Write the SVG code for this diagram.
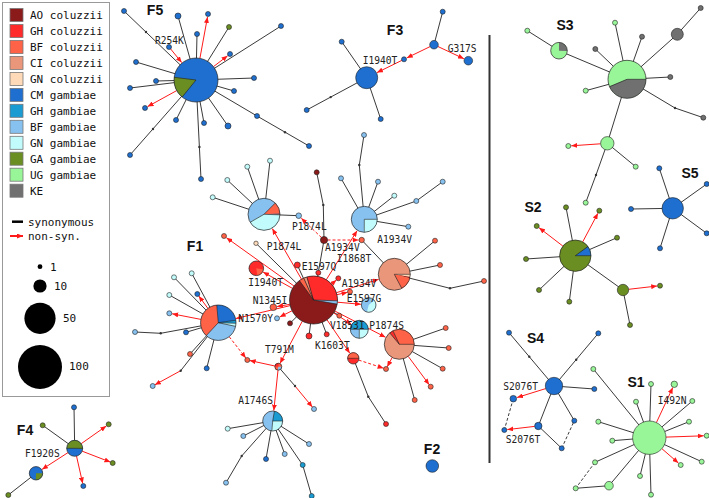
<svg xmlns="http://www.w3.org/2000/svg" width="709" height="498" viewBox="0 0 709 498">
<defs>
<style>
.e{stroke:#3a3a3a;stroke-width:1;fill:none}
.a{stroke:#ff1a1a;stroke-width:1;fill:none;marker-end:url(#ar)}
.ad{stroke:#ff1a1a;stroke-width:1;fill:none;stroke-dasharray:3 2;marker-end:url(#ar)}
.k{stroke:#3a3a3a;stroke-width:1;fill:none;stroke-dasharray:3 2}
.n{stroke:#222;stroke-width:.6}
.o{fill:none;stroke:#222;stroke-width:.7}
.sb{stroke:#222;stroke-width:.6}
.m{fill:#333}
.sw{stroke:#777;stroke-width:.8}
.AO{fill:#8b1a1a}.GHc{fill:#ff2a2a}.BFc{fill:#ff6347}.CI{fill:#e9967a}.GNc{fill:#ffdab9}
.CM{fill:#1e6fcf}.GHg{fill:#1a9cd3}.BFg{fill:#87c1ef}.GNg{fill:#c2fbfb}.GA{fill:#6b8e23}.UG{fill:#98f598}.KE{fill:#707070}
.sAO{stroke:#8b1a1a;fill:none}.sGHc{stroke:#ff2a2a;fill:none}.sBFc{stroke:#ff6347;fill:none}.sCI{stroke:#e9967a;fill:none}.sGNc{stroke:#ffdab9;fill:none}
.sCM{stroke:#1e6fcf;fill:none}.sGHg{stroke:#1a9cd3;fill:none}.sBFg{stroke:#87c1ef;fill:none}.sGNg{stroke:#c2fbfb;fill:none}.sGA{stroke:#6b8e23;fill:none}.sUG{stroke:#98f598;fill:none}.sKE{stroke:#707070;fill:none}
.t{font-family:"DejaVu Sans Mono","Liberation Mono",monospace;font-size:9.6px;fill:#222}
.lg{font-family:"DejaVu Sans Mono","Liberation Mono",monospace;font-size:11px;fill:#111}
.cl{font-family:"Liberation Sans",Arial,sans-serif;font-weight:bold;font-size:14px;fill:#111;text-anchor:middle}
</style>
<marker id="ar" viewBox="0 0 6 5" refX="6" refY="2.5" markerWidth="6" markerHeight="5" markerUnits="userSpaceOnUse" orient="auto"><path d="M0,0L6,2.5L0,5z" fill="#ff1a1a"/></marker>
</defs>
<rect width="709" height="498" fill="#fff"/>

<g id="legend">
<rect x="2.5" y="2.5" width="107" height="394" fill="#fff" stroke="#999"/>
<rect x="10" y="8.5" width="13" height="13" class="sw AO"/><text x="30" y="19" class="lg">AO coluzzii</text>
<rect x="10" y="24.5" width="13" height="13" class="sw GHc"/><text x="30" y="35" class="lg">GH coluzzii</text>
<rect x="10" y="40.5" width="13" height="13" class="sw BFc"/><text x="30" y="51" class="lg">BF coluzzii</text>
<rect x="10" y="56.4" width="13" height="13" class="sw CI"/><text x="30" y="66.9" class="lg">CI coluzzii</text>
<rect x="10" y="72.4" width="13" height="13" class="sw GNc"/><text x="30" y="82.9" class="lg">GN coluzzii</text>
<rect x="10" y="88.4" width="13" height="13" class="sw CM"/><text x="30" y="98.9" class="lg">CM gambiae</text>
<rect x="10" y="104.3" width="13" height="13" class="sw GHg"/><text x="30" y="114.8" class="lg">GH gambiae</text>
<rect x="10" y="120.3" width="13" height="13" class="sw BFg"/><text x="30" y="130.8" class="lg">BF gambiae</text>
<rect x="10" y="136.3" width="13" height="13" class="sw GNg"/><text x="30" y="146.8" class="lg">GN gambiae</text>
<rect x="10" y="152.2" width="13" height="13" class="sw GA"/><text x="30" y="162.7" class="lg">GA gambiae</text>
<rect x="10" y="168.2" width="13" height="13" class="sw UG"/><text x="30" y="178.7" class="lg">UG gambiae</text>
<rect x="10" y="184.2" width="13" height="13" class="sw KE"/><text x="30" y="194.7" class="lg">KE</text>
<line x1="12" y1="221.7" x2="23" y2="221.7" stroke="#000" stroke-width="2.5"/><text x="28" y="225.5" class="lg">synonymous</text>
<line x1="10" y1="236" x2="23" y2="236" stroke="#ff1a1a" stroke-width="2" marker-end="url(#ar)"/><text x="28" y="240" class="lg">non-syn.</text>
<circle cx="40" cy="266.7" r="2.4" fill="#000"/><text x="50" y="271" class="lg">1</text>
<circle cx="40" cy="286" r="6.6" fill="#000"/><text x="54" y="290" class="lg">10</text>
<circle cx="40" cy="318.3" r="15.6" fill="#000"/><text x="63" y="322" class="lg">50</text>
<circle cx="40" cy="367" r="22" fill="#000"/><text x="69" y="369.5" class="lg">100</text>
</g>

<line id="separator" x1="489.5" y1="35" x2="489.5" y2="463" stroke="#333" stroke-width="2"/>

<g id="connectors">
<path class="e" d="M196,80L124,11M196,80L178,16M196,80L229,27M196,80L281,26M196,80L197,34M196,80L136,62M196,80L156,81M196,80L130,88M196,80L254,78M196,80L234,91M196,80L176,120M196,80L204,123M196,80L228,126M196,80L130,155M196,80L201,179M196,80L257,116L309,146"/>
<line class="a" x1="199.9" y1="58.4" x2="207.5" y2="17"/>
<line class="a" x1="213.5" y1="66.6" x2="227.6" y2="55.8"/>
<line class="a" x1="170.6" y1="48.9" x2="181.7" y2="62.6"/>
<line class="a" x1="176.7" y1="90.6" x2="147.6" y2="106.6"/>

<path class="e" d="M366.7,77.7L341.7,41.7M366.7,77.7L306.7,110M366.7,77.7L380.7,119M434,44.7L442.7,11.7"/>
<line class="a" x1="430.1" y1="46.6" x2="406.8" y2="57.9"/>
<line class="a" x1="401.8" y1="60.4" x2="377" y2="72.6"/>
<line class="a" x1="437.9" y1="46.5" x2="463.9" y2="58.7"/>

<path class="e" d="M627,79.3L559,50.7L527.3,30.7M627,79.3L615,22.7M627,79.3L642,36.7M627,79.3L595.3,49M627,79.3L670.3,77M627,79.3L585.7,90.7M627,79.3L675,108L703.3,117.7M627,79.3L677.3,34.3L700.7,8M627,79.3L607.3,143.3L596,175L585.7,202.7M607.3,143.3L635.7,166.7"/>
<line class="a" x1="600.6" y1="143.8" x2="571.3" y2="145.8"/>

<path class="e" d="M672.7,208.3L659.3,168.3M672.7,208.3L706.7,184M672.7,208.3L631,209M672.7,208.3L706.7,233.3M672.7,208.3L660,248.3"/>

<path class="e" d="M575.3,255.7L566,207.3M575.3,255.7L617,237.7M575.3,255.7L526,259M575.3,255.7L539,290M575.3,255.7L569.3,301.7M575.3,255.7L623,290L630,325"/>
<line class="a" x1="562.9" y1="246.1" x2="539.1" y2="227.8"/>
<line class="a" x1="582.7" y1="241.9" x2="597.9" y2="213.3"/>
<line class="a" x1="628.7" y1="289.3" x2="657.2" y2="286"/>

<path class="e" d="M554,386L509,332.7M554,386L598.3,333.3M554,386L594.3,389M554,386L538.3,426L561.7,448.3M554,386L574.3,420.7"/>
<path class="k" d="M513.3,398.7L504.3,430M561.7,448.3L574.3,420.7"/>
<line class="a" x1="545.7" y1="388.6" x2="517.1" y2="397.5"/>
<line class="a" x1="534.6" y1="426.4" x2="507.3" y2="429.6"/>

<path class="e" d="M649.3,437.7L593.3,369M649.3,437.7L651,384M649.3,437.7L692.3,401M649.3,437.7L636,401.7M649.3,437.7L689,421.7M649.3,437.7L598.3,421.7M649.3,437.7L612.3,440.7M649.3,437.7L701.7,461.7M649.3,437.7L595,462.3M649.3,437.7L640,476M649.3,437.7L609,485.7L575.7,488.3M649.3,437.7L651,494.7"/>
<path class="k" d="M595,462.3L575.7,488.3"/>
<line class="a" x1="656.4" y1="422.6" x2="672.8" y2="387.5"/>
<line class="a" x1="666" y1="437.1" x2="703.7" y2="435.8"/>
<line class="a" x1="661.9" y1="448.7" x2="678.4" y2="463"/>

<path class="e" d="M74.7,448.3L74,407.3M74.7,448.3L42.7,425.3M36,473.3L8.3,495"/>
<line class="a" x1="81.2" y1="443.7" x2="106.3" y2="426"/>
<line class="a" x1="82.2" y1="451.2" x2="110.4" y2="462.1"/>
<line class="a" x1="76.5" y1="456.1" x2="82.7" y2="483.4"/>
<line class="a" x1="68" y1="452.6" x2="42" y2="469.4"/>

<path class="e" d="M313.5,300L256,243.3M313.5,300L297.3,265M313.5,300L290,323.3M313.5,300L324,240L323.3,205L316.7,172.3M313.5,300L309,336M313.5,300L326.7,334.3M313.5,300L339.3,315.7M361.7,240L394.3,274.3M394.3,274.3L435,240.7M394.3,274.3L440,265M394.3,274.3L450,288.3L484,281M264,214.3L247.3,166.7M264,214.3L270,160.7M264,214.3L227.3,180M264,214.3L212.7,197.3M264,214.3L298.7,215.7M364.3,219.3L341,178.3M364.3,219.3L378,181.7M364.3,219.3L394.3,195.7M364.3,219.3L416.3,201L442.7,181.7M364.3,219.3L408.3,226.7M364.3,219.3L359.3,165L364,135M218.3,322.7L174,277.3M218.3,322.7L191.7,273.3M218.3,322.7L169.3,295M218.3,322.7L186,332.3M218.3,322.7L160.7,333.3L135,332M218.3,322.7L190,354M218.3,322.7L206.7,368.3M218.3,322.7L180.7,370.7M278.3,366.7L295,386M272.7,421L227.7,428.7M272.7,421L243.3,436M272.7,421L266,459M272.7,421L284.7,454M272.7,421L309,444M272.7,421L302.7,465L311.7,496M272.7,421L241.7,456L226,482.7M399.3,344.3L445.7,328M399.3,344.3L448.7,348M399.3,344.3L442.7,368.7M399.3,344.3L414.7,400M353.3,358.3L368.3,396.7L386,424"/>
<line class="a" x1="294" y1="286" x2="226.4" y2="237.7"/>
<line class="a" x1="292.5" y1="288.4" x2="263.1" y2="272.1"/>
<line class="a" x1="301.5" y1="279.2" x2="272.3" y2="228.6"/>
<line class="a" x1="289.9" y1="304.3" x2="277.1" y2="306.6"/>
<line class="a" x1="292" y1="310.8" x2="279.7" y2="317"/>
<line class="a" x1="290.2" y1="305.6" x2="236" y2="318.5"/>
<line class="a" x1="207.9" y1="308.4" x2="198.8" y2="296"/>
<line class="a" x1="200.9" y1="319.4" x2="172.2" y2="313.8"/>
<line class="a" x1="180.7" y1="370.7" x2="154.9" y2="384.8"/>
<line class="a" x1="302.3" y1="321.2" x2="280" y2="363.4"/>
<line class="a" x1="274.9" y1="366" x2="249.7" y2="360.5"/>
<line class="a" x1="295" y1="386" x2="312.4" y2="407.1"/>
<line class="a" x1="278" y1="370.2" x2="273.8" y2="410.6"/>
<line class="a" x1="326.3" y1="279.7" x2="357.1" y2="230.7"/>
<line class="a" x1="336.4" y1="292.7" x2="378.6" y2="279.3"/>
<line class="a" x1="331.5" y1="284.2" x2="336.4" y2="280"/>
<line class="a" x1="336.9" y1="294.7" x2="347.6" y2="292.2"/>
<line class="a" x1="337.4" y1="302.2" x2="360.9" y2="304.3"/>
<line class="a" x1="333.7" y1="312.9" x2="351.3" y2="324.2"/>
<line class="a" x1="334.8" y1="311" x2="385.5" y2="337.2"/>
<line class="a" x1="408.2" y1="356.3" x2="429.2" y2="384.7"/>
<line class="a" x1="392.2" y1="357.5" x2="387.2" y2="366.8"/>
<line class="a" x1="327" y1="319.8" x2="349.8" y2="353.2"/>
<line class="ad" x1="229.2" y1="336.7" x2="245.8" y2="358"/>
<line class="ad" x1="321.5" y1="237.6" x2="301.3" y2="218.2"/>
<line class="ad" x1="327.5" y1="240" x2="358.5" y2="240"/>
<line class="ad" x1="358.7" y1="360.1" x2="383.6" y2="368.2"/>
<g class="m">
<circle cx="146" cy="32" r="1.2"/><circle cx="153" cy="129" r="1.2"/><circle cx="199.4" cy="147" r="1.2"/><circle cx="285" cy="132.2" r="1.2"/>
<circle cx="330.7" cy="97.1" r="1.2"/><circle cx="675" cy="108" r="1.2"/><circle cx="596" cy="175" r="1.2"/>
<circle cx="529.3" cy="356.7" r="1.2"/><circle cx="576.2" cy="359.7" r="1.2"/>
<circle cx="323.3" cy="205" r="1.2"/><circle cx="359.3" cy="165" r="1.2"/><circle cx="450" cy="288.3" r="1.2"/>
<circle cx="160.7" cy="333.3" r="1.2"/><circle cx="180.7" cy="370.7" r="1.2"/><circle cx="295" cy="386" r="1.2"/>
<circle cx="241.7" cy="456" r="1.2"/><circle cx="368.3" cy="396.7" r="1.2"/>
</g>
</g>

<g id="nodes">
<g id="F5">
<g id="F5-hub">
<circle cx="196" cy="80" r="22" class="CM"/>
<circle cx="196" cy="80" r="11" class="sGA" stroke-width="22" stroke-dasharray="11.14 69.12" transform="rotate(129 196 80)"/>
<line x1="196" y1="80" x2="218" y2="80" class="sb" transform="rotate(129 196 80)"/>
<line x1="196" y1="80" x2="218" y2="80" class="sb" transform="rotate(187 196 80)"/>
<circle cx="196" cy="80" r="22" class="o"/>
</g>
<circle id="F5-n1" cx="124" cy="11" r="2.5" class="n CM"/>
<circle id="F5-n2" cx="178" cy="16" r="3" class="n CM"/>
<circle id="F5-n3" cx="208" cy="14" r="2.5" class="n CM"/>
<circle id="F5-n4" cx="229" cy="27" r="2.5" class="n GA"/>
<circle id="F5-n5" cx="281" cy="26" r="2.5" class="n CM"/>
<circle id="F5-n6" cx="230" cy="54" r="2.5" class="n CM"/>
<circle id="F5-n7" cx="197" cy="34" r="2.5" class="n CM"/>
<circle id="F5-n8" cx="169" cy="47" r="2.5" class="n CM"/>
<circle id="F5-n9" cx="136" cy="62" r="2.5" class="n CM"/>
<circle id="F5-n10" cx="156" cy="81" r="2.5" class="n CM"/>
<circle id="F5-n11" cx="130" cy="88" r="2.5" class="n CM"/>
<circle id="F5-n12" cx="254" cy="78" r="2.5" class="n CM"/>
<circle id="F5-n13" cx="234" cy="91" r="2.5" class="n CM"/>
<circle id="F5-n14" cx="145" cy="108" r="2.5" class="n CM"/>
<circle id="F5-n15" cx="176" cy="120" r="2.5" class="n CM"/>
<circle id="F5-n16" cx="204" cy="123" r="2.5" class="n CM"/>
<circle id="F5-n17" cx="228" cy="126" r="3" class="n CM"/>
<circle id="F5-n18" cx="130" cy="155" r="2.5" class="n CM"/>
<circle id="F5-n19" cx="201" cy="179" r="2.5" class="n CM"/>
<circle id="F5-n20" cx="257" cy="116" r="2.5" class="n CM"/>
<circle id="F5-n21" cx="309" cy="146" r="2.5" class="n CM"/>
</g>

<g id="F3">
<circle id="F3-hub" cx="366.7" cy="77.7" r="11" class="n CM"/>
<circle id="F3-n1" cx="341.7" cy="41.7" r="2.5" class="n CM"/>
<circle id="F3-n2" cx="306.7" cy="110" r="2.5" class="n CM"/>
<circle id="F3-n3" cx="380.7" cy="119" r="2.5" class="n CM"/>
<circle id="F3-n4" cx="404" cy="59.3" r="2.5" class="n CM"/>
<circle id="F3-n5" cx="434" cy="44.7" r="4.3" class="n CM"/>
<circle id="F3-n6" cx="442.7" cy="11.7" r="2.5" class="n CM"/>
<circle id="F3-n7" cx="468.3" cy="60.7" r="4.3" class="n CM"/>
</g>

<g id="S3">
<g id="S3-hub">
<circle cx="627" cy="79.3" r="19" class="UG"/>
<circle cx="627" cy="79.3" r="9.5" class="sKE" stroke-width="19" stroke-dasharray="26.03 59.69"/>
<line x1="627" y1="79.3" x2="646" y2="79.3" class="sb"/>
<line x1="627" y1="79.3" x2="646" y2="79.3" class="sb" transform="rotate(157 627 79.3)"/>
<circle cx="627" cy="79.3" r="19" class="o"/>
</g>
<g id="S3-n1">
<circle cx="559" cy="50.7" r="8.3" class="UG"/>
<circle cx="559" cy="50.7" r="4.15" class="sKE" stroke-width="8.3" stroke-dasharray="6.52 26.08" transform="rotate(-90 559 50.7)"/>
<circle cx="559" cy="50.7" r="8.3" class="o"/>
</g>
<circle id="S3-n2" cx="527.3" cy="30.7" r="2.5" class="n UG"/>
<circle id="S3-n3" cx="615" cy="22.7" r="2.5" class="n UG"/>
<circle id="S3-n4" cx="642" cy="36.7" r="2.5" class="n KE"/>
<circle id="S3-n5" cx="595.3" cy="49" r="2.5" class="n KE"/>
<circle id="S3-n6" cx="670.3" cy="77" r="2.5" class="n KE"/>
<circle id="S3-n7" cx="585.7" cy="90.7" r="2.5" class="n UG"/>
<circle id="S3-n8" cx="703.3" cy="117.7" r="2.5" class="n KE"/>
<circle id="S3-n9" cx="677.3" cy="34.3" r="6" class="n KE"/>
<circle id="S3-n10" cx="700.7" cy="8" r="2.5" class="n KE"/>
<circle id="S3-n11" cx="607.3" cy="143.3" r="6.7" class="n UG"/>
<circle id="S3-n12" cx="568.3" cy="146" r="2.5" class="n UG"/>
<circle id="S3-n13" cx="585.7" cy="202.7" r="2.5" class="n UG"/>
<circle id="S3-n14" cx="635.7" cy="166.7" r="2.5" class="n UG"/>
</g>

<g id="S5">
<circle id="S5-hub" cx="672.7" cy="208.3" r="10.7" class="n CM"/>
<circle id="S5-n1" cx="659.3" cy="168.3" r="2.5" class="n CM"/>
<circle id="S5-n2" cx="706.7" cy="184" r="2.5" class="n CM"/>
<circle id="S5-n3" cx="631" cy="209" r="2.5" class="n CM"/>
<circle id="S5-n4" cx="706.7" cy="233.3" r="2.5" class="n CM"/>
<circle id="S5-n5" cx="660" cy="248.3" r="2.5" class="n CM"/>
</g>

<g id="S2">
<g id="S2-hub">
<circle cx="575.3" cy="255.7" r="15.7" class="GA"/>
<circle cx="575.3" cy="255.7" r="7.85" class="sCM" stroke-width="15.7" stroke-dasharray="4.93 49.32" transform="rotate(-36 575.3 255.7)"/>
<line x1="575.3" y1="255.7" x2="591" y2="255.7" class="sb"/>
<line x1="575.3" y1="255.7" x2="591" y2="255.7" class="sb" transform="rotate(-36 575.3 255.7)"/>
<circle cx="575.3" cy="255.7" r="15.7" class="o"/>
</g>
<circle id="S2-n1" cx="566" cy="207.3" r="2.5" class="n GA"/>
<circle id="S2-n2" cx="536.7" cy="226" r="2.5" class="n GA"/>
<circle id="S2-n3" cx="599.3" cy="210.7" r="2.5" class="n GA"/>
<circle id="S2-n4" cx="617" cy="237.7" r="2.5" class="n GA"/>
<circle id="S2-n5" cx="526" cy="259" r="2.5" class="n GA"/>
<circle id="S2-n6" cx="539" cy="290" r="2.5" class="n GA"/>
<circle id="S2-n7" cx="569.3" cy="301.7" r="2.5" class="n GA"/>
<circle id="S2-n8" cx="623" cy="290" r="5.7" class="n GA"/>
<circle id="S2-n9" cx="660" cy="285.7" r="2.5" class="n GA"/>
<circle id="S2-n10" cx="630" cy="325" r="2.5" class="n GA"/>
</g>

<g id="S4">
<circle id="S4-hub" cx="554" cy="386" r="8.7" class="n CM"/>
<circle id="S4-n1" cx="509" cy="332.7" r="2.5" class="n CM"/>
<circle id="S4-n2" cx="598.3" cy="333.3" r="2.5" class="n CM"/>
<circle id="S4-n3" cx="594.3" cy="389" r="2.5" class="n CM"/>
<circle id="S4-n4" cx="513.3" cy="398.7" r="3.3" class="n CM"/>
<circle id="S4-n5" cx="538.3" cy="426" r="3.7" class="n CM"/>
<circle id="S4-n6" cx="504.3" cy="430" r="2.5" class="n CM"/>
<circle id="S4-n7" cx="561.7" cy="448.3" r="2.5" class="n CM"/>
<circle id="S4-n8" cx="574.3" cy="420.7" r="2.5" class="n CM"/>
</g>

<g id="S1">
<circle id="S1-hub" cx="649.3" cy="437.7" r="16.7" class="n UG"/>
<circle id="S1-n1" cx="593.3" cy="369" r="2.5" class="n UG"/>
<circle id="S1-n2" cx="651" cy="384" r="2.5" class="n UG"/>
<circle id="S1-n3" cx="674.3" cy="384.3" r="3.2" class="n UG"/>
<circle id="S1-n4" cx="692.3" cy="401" r="2.5" class="n UG"/>
<circle id="S1-n5" cx="636" cy="401.7" r="2.5" class="n UG"/>
<circle id="S1-n6" cx="689" cy="421.7" r="2.5" class="n UG"/>
<circle id="S1-n7" cx="598.3" cy="421.7" r="2.5" class="n UG"/>
<circle id="S1-n8" cx="706.7" cy="435.7" r="2.5" class="n UG"/>
<circle id="S1-n9" cx="612.3" cy="440.7" r="2.5" class="n UG"/>
<circle id="S1-n10" cx="701.7" cy="461.7" r="2.5" class="n UG"/>
<circle id="S1-n11" cx="680.7" cy="465" r="2.5" class="n UG"/>
<circle id="S1-n12" cx="595" cy="462.3" r="2.5" class="n UG"/>
<circle id="S1-n13" cx="575.7" cy="488.3" r="2.5" class="n UG"/>
<circle id="S1-n14" cx="640" cy="476" r="2.5" class="n UG"/>
<circle id="S1-n15" cx="609" cy="485.7" r="4.3" class="n UG"/>
<circle id="S1-n16" cx="651" cy="494.7" r="2.5" class="n UG"/>
</g>

<g id="F4">
<g id="F4-hub">
<circle cx="74.7" cy="448.3" r="8" class="CM"/>
<circle cx="74.7" cy="448.3" r="4" class="sGA" stroke-width="8" stroke-dasharray="12.57 25.13" transform="rotate(180 74.7 448.3)"/>
<line x1="66.7" y1="448.3" x2="82.7" y2="448.3" class="sb"/>
<circle cx="74.7" cy="448.3" r="8" class="o"/>
</g>
<circle id="F4-n1" cx="74" cy="407.3" r="2.5" class="n CM"/>
<circle id="F4-n2" cx="42.7" cy="425.3" r="2.5" class="n GA"/>
<circle id="F4-n3" cx="108.7" cy="424.3" r="2.5" class="n GA"/>
<circle id="F4-n4" cx="112.7" cy="463" r="2.5" class="n GA"/>
<circle id="F4-n5" cx="83.3" cy="486" r="2.5" class="n CM"/>
<g id="F4-n6">
<circle cx="36" cy="473.3" r="6.7" class="CM"/>
<circle cx="36" cy="473.3" r="3.35" class="sGA" stroke-width="6.7" stroke-dasharray="5.26 21.05"/>
<circle cx="36" cy="473.3" r="6.7" class="o"/>
</g>
<circle id="F4-n7" cx="8.3" cy="495" r="2.5" class="n GA"/>
</g>

<g id="F2">
<circle id="F2-n1" cx="432.3" cy="466" r="6.3" class="n CM"/>
</g>

<g id="F1">
<g id="F1-hub">
<circle cx="313.5" cy="300" r="24" class="AO"/>
<circle cx="313.5" cy="300" r="12" class="sBFc" stroke-width="24" stroke-dasharray="2.51 75.4" transform="rotate(-126 313.5 300)"/>
<circle cx="313.5" cy="300" r="12" class="sCI" stroke-width="24" stroke-dasharray="1.68 75.4" transform="rotate(-114 313.5 300)"/>
<circle cx="313.5" cy="300" r="12" class="sGHc" stroke-width="24" stroke-dasharray="22.62 75.4" transform="rotate(-106 313.5 300)"/>
<circle cx="313.5" cy="300" r="12" class="sBFg" stroke-width="24" stroke-dasharray="1.68 75.4" transform="rotate(2 313.5 300)"/>
<line x1="313.5" y1="300" x2="337.5" y2="300" class="sb" transform="rotate(-126 313.5 300)"/>
<line x1="313.5" y1="300" x2="337.5" y2="300" class="sb" transform="rotate(-114 313.5 300)"/>
<line x1="313.5" y1="300" x2="337.5" y2="300" class="sb" transform="rotate(-106 313.5 300)"/>
<line x1="313.5" y1="300" x2="337.5" y2="300" class="sb" transform="rotate(2 313.5 300)"/>
<line x1="313.5" y1="300" x2="337.5" y2="300" class="sb" transform="rotate(10 313.5 300)"/>
<circle cx="313.5" cy="300" r="24" class="o"/>
</g>
<g id="F1-pieA">
<circle cx="264" cy="214.3" r="16" class="BFg"/>
<circle cx="264" cy="214.3" r="8" class="sBFc" stroke-width="16" stroke-dasharray="5.86 50.27" transform="rotate(-45 264 214.3)"/>
<circle cx="264" cy="214.3" r="8" class="sAO" stroke-width="16" stroke-dasharray="0.7 50.27" transform="rotate(-3 264 214.3)"/>
<circle cx="264" cy="214.3" r="8" class="sGNg" stroke-width="16" stroke-dasharray="20.66 50.27" transform="rotate(2 264 214.3)"/>
<line x1="264" y1="214.3" x2="280" y2="214.3" class="sb" transform="rotate(-45 264 214.3)"/>
<line x1="264" y1="214.3" x2="280" y2="214.3" class="sb" transform="rotate(2 264 214.3)"/>
<line x1="264" y1="214.3" x2="280" y2="214.3" class="sb" transform="rotate(150 264 214.3)"/>
<circle cx="264" cy="214.3" r="16" class="o"/>
</g>
<circle id="F1-a1" cx="247.3" cy="166.7" r="2.5" class="n GNg"/>
<circle id="F1-a2" cx="270" cy="160.7" r="2.5" class="n GNg"/>
<circle id="F1-a3" cx="227.3" cy="180" r="2.5" class="n GNg"/>
<circle id="F1-a4" cx="212.7" cy="197.3" r="2.5" class="n GNg"/>
<circle id="F1-a5" cx="298.7" cy="215.7" r="2.8" class="n BFg"/>
<circle id="F1-b1" cx="224" cy="236" r="2.5" class="n BFc"/>
<circle id="F1-b2" cx="256" cy="243.3" r="2.2" class="n GNc"/>
<g id="F1-b3">
<circle cx="256.3" cy="268.3" r="7.3" class="GHc"/>
<circle cx="256.3" cy="268.3" r="3.65" class="sBFc" stroke-width="7.3" stroke-dasharray="4.46 22.93" transform="rotate(10 256.3 268.3)"/>
<circle cx="256.3" cy="268.3" r="7.3" class="o"/>
</g>
<circle id="F1-b4" cx="297.3" cy="265" r="3" class="n GHc"/>
<circle id="F1-b5" cx="273.3" cy="307.3" r="3.3" class="n BFc"/>
<circle id="F1-b6" cx="277" cy="318.3" r="2.5" class="n BFg"/>
<circle id="F1-b7" cx="290" cy="323.3" r="2.5" class="n AO"/>
<g id="F1-pieB">
<circle cx="218.3" cy="322.7" r="17.7" class="BFg"/>
<circle cx="218.3" cy="322.7" r="8.85" class="sBFc" stroke-width="17.7" stroke-dasharray="20.39 55.61" transform="rotate(133 218.3 322.7)"/>
<circle cx="218.3" cy="322.7" r="8.85" class="sCM" stroke-width="17.7" stroke-dasharray="13.44 55.61" transform="rotate(265 218.3 322.7)"/>
<circle cx="218.3" cy="322.7" r="8.85" class="sGHg" stroke-width="17.7" stroke-dasharray="1.55 55.61" transform="rotate(352 218.3 322.7)"/>
<circle cx="218.3" cy="322.7" r="8.85" class="sGNg" stroke-width="17.7" stroke-dasharray="1.55 55.61" transform="rotate(2 218.3 322.7)"/>
<line x1="218.3" y1="322.7" x2="236" y2="322.7" class="sb" transform="rotate(133 218.3 322.7)"/>
<line x1="218.3" y1="322.7" x2="236" y2="322.7" class="sb" transform="rotate(265 218.3 322.7)"/>
<line x1="218.3" y1="322.7" x2="236" y2="322.7" class="sb" transform="rotate(352 218.3 322.7)"/>
<line x1="218.3" y1="322.7" x2="236" y2="322.7" class="sb" transform="rotate(2 218.3 322.7)"/>
<line x1="218.3" y1="322.7" x2="236" y2="322.7" class="sb" transform="rotate(12 218.3 322.7)"/>
<circle cx="218.3" cy="322.7" r="17.7" class="o"/>
</g>
<circle id="F1-c1" cx="174" cy="277.3" r="2.5" class="n GNg"/>
<circle id="F1-c2" cx="191.7" cy="273.3" r="2.5" class="n GNg"/>
<circle id="F1-c3" cx="169.3" cy="295" r="2.5" class="n GNg"/>
<circle id="F1-c4" cx="197.3" cy="294" r="2.5" class="n CM"/>
<circle id="F1-c5" cx="169.3" cy="313.3" r="2.5" class="n BFg"/>
<circle id="F1-c6" cx="186" cy="332.3" r="2.5" class="n CM"/>
<circle id="F1-c7" cx="135" cy="332" r="2.5" class="n BFg"/>
<circle id="F1-c8" cx="190" cy="354" r="2.5" class="n BFc"/>
<circle id="F1-c9" cx="206.7" cy="368.3" r="2.5" class="n CM"/>
<circle id="F1-c11" cx="152.7" cy="386" r="2.5" class="n BFg"/>
<circle id="F1-c12" cx="247.3" cy="360" r="2.5" class="n BFc"/>
<g id="F1-T791M">
<circle cx="278.3" cy="366.7" r="3.5" class="BFc"/>
<circle cx="278.3" cy="366.7" r="1.75" class="sGHc" stroke-width="3.5" stroke-dasharray="2.75 11" transform="rotate(180 278.3 366.7)"/>
<circle cx="278.3" cy="366.7" r="1.75" class="sBFg" stroke-width="3.5" stroke-dasharray="2.75 11"/>
<circle cx="278.3" cy="366.7" r="3.5" class="o"/>
</g>
<circle id="F1-d1" cx="314" cy="409" r="2.5" class="n BFg"/>
<g id="F1-pieC">
<circle cx="272.7" cy="421" r="10" class="BFg"/>
<circle cx="272.7" cy="421" r="5" class="sGHg" stroke-width="10" stroke-dasharray="6.98 31.42" transform="rotate(-80 272.7 421)"/>
<circle cx="272.7" cy="421" r="5" class="sGNg" stroke-width="10" stroke-dasharray="8.29 31.42"/>
<line x1="272.7" y1="421" x2="282.7" y2="421" class="sb" transform="rotate(-80 272.7 421)"/>
<line x1="272.7" y1="421" x2="282.7" y2="421" class="sb"/>
<line x1="272.7" y1="421" x2="282.7" y2="421" class="sb" transform="rotate(95 272.7 421)"/>
<circle cx="272.7" cy="421" r="10" class="o"/>
</g>
<circle id="F1-p1" cx="227.7" cy="428.7" r="2.5" class="n GNg"/>
<circle id="F1-p2" cx="243.3" cy="436" r="2.5" class="n BFg"/>
<circle id="F1-p3" cx="266" cy="459" r="2.5" class="n CM"/>
<circle id="F1-p4" cx="284.7" cy="454" r="2.5" class="n BFg"/>
<circle id="F1-p5" cx="309" cy="444" r="2.5" class="n BFg"/>
<circle id="F1-p6" cx="302.7" cy="465" r="2.5" class="n GHg"/>
<circle id="F1-p7" cx="311.7" cy="496" r="2.5" class="n GHg"/>
<circle id="F1-p8" cx="226" cy="482.7" r="2.5" class="n BFg"/>
<circle id="F1-e0" cx="316.7" cy="172.3" r="2.5" class="n AO"/>
<circle id="F1-e1" cx="324" cy="240" r="3.6" class="n AO"/>
<circle id="F1-e2" cx="318.3" cy="272.7" r="2.5" class="n GHc"/>
<circle id="F1-e3" cx="361.7" cy="240" r="2.7" class="n BFc"/>
<circle id="F1-e4" cx="338.3" cy="278.3" r="2.5" class="n GHc"/>
<circle id="F1-e5" cx="350" cy="291.7" r="2.5" class="n BFc"/>
<circle id="F1-e6" cx="309" cy="336" r="3" class="n GHc"/>
<circle id="F1-e7" cx="326.7" cy="334.3" r="2.5" class="n GHc"/>
<circle id="F1-e8" cx="339.3" cy="315.7" r="2.5" class="n BFc"/>
<g id="F1-pieD">
<circle cx="364.3" cy="219.3" r="13" class="BFg"/>
<circle cx="364.3" cy="219.3" r="6.5" class="sGNg" stroke-width="13" stroke-dasharray="10.21 40.84"/>
<line x1="364.3" y1="219.3" x2="377.3" y2="219.3" class="sb"/>
<line x1="364.3" y1="219.3" x2="377.3" y2="219.3" class="sb" transform="rotate(90 364.3 219.3)"/>
<circle cx="364.3" cy="219.3" r="13" class="o"/>
</g>
<circle id="F1-q1" cx="341" cy="178.3" r="2.5" class="n BFg"/>
<circle id="F1-q2" cx="378" cy="181.7" r="2.5" class="n BFg"/>
<circle id="F1-q3" cx="394.3" cy="195.7" r="2.5" class="n GNg"/>
<circle id="F1-q4" cx="416.3" cy="201" r="2.5" class="n BFg"/>
<circle id="F1-q5" cx="442.7" cy="181.7" r="2.5" class="n BFg"/>
<circle id="F1-q6" cx="408.3" cy="226.7" r="2.5" class="n BFg"/>
<circle id="F1-q7" cx="364" cy="135" r="2.5" class="n BFg"/>
<g id="F1-pieE">
<circle cx="394.3" cy="274.3" r="16" class="CI"/>
<circle cx="394.3" cy="274.3" r="8" class="sGNc" stroke-width="16" stroke-dasharray="1.4 50.27"/>
<circle cx="394.3" cy="274.3" r="8" class="sAO" stroke-width="16" stroke-dasharray="0.56 50.27" transform="rotate(10 394.3 274.3)"/>
<circle cx="394.3" cy="274.3" r="8" class="sBFc" stroke-width="16" stroke-dasharray="6.7 50.27" transform="rotate(14 394.3 274.3)"/>
<line x1="394.3" y1="274.3" x2="410.3" y2="274.3" class="sb"/>
<line x1="394.3" y1="274.3" x2="410.3" y2="274.3" class="sb" transform="rotate(62 394.3 274.3)"/>
<circle cx="394.3" cy="274.3" r="16" class="o"/>
</g>
<circle id="F1-r1" cx="435" cy="240.7" r="2.5" class="n BFc"/>
<circle id="F1-r2" cx="440" cy="265" r="2.5" class="n BFc"/>
<circle id="F1-r3" cx="484" cy="281" r="2.5" class="n BFc"/>
<g id="F1-pieF">
<circle cx="368.7" cy="305" r="7.3" class="BFg"/>
<circle cx="368.7" cy="305" r="3.65" class="sGNg" stroke-width="7.3" stroke-dasharray="8.92 22.93" transform="rotate(-40 368.7 305)"/>
<circle cx="368.7" cy="305" r="7.3" class="o"/>
</g>
<g id="F1-pieG">
<circle cx="359.3" cy="329.3" r="9" class="BFg"/>
<circle cx="359.3" cy="329.3" r="4.5" class="sGHg" stroke-width="9" stroke-dasharray="14.14 28.27" transform="rotate(180 359.3 329.3)"/>
<circle cx="359.3" cy="329.3" r="4.5" class="sGNg" stroke-width="9" stroke-dasharray="7.07 28.27"/>
<line x1="350.3" y1="329.3" x2="368.3" y2="329.3" class="sb"/>
<line x1="359.3" y1="329.3" x2="359.3" y2="338.3" class="sb"/>
<circle cx="359.3" cy="329.3" r="9" class="o"/>
</g>
<g id="F1-pieH">
<circle cx="399.3" cy="344.3" r="15" class="CI"/>
<circle cx="399.3" cy="344.3" r="7.5" class="sGHc" stroke-width="15" stroke-dasharray="1.96 47.12" transform="rotate(-130 399.3 344.3)"/>
<circle cx="399.3" cy="344.3" r="7.5" class="sBFc" stroke-width="15" stroke-dasharray="15.05 47.12" transform="rotate(-115 399.3 344.3)"/>
<line x1="399.3" y1="344.3" x2="414.3" y2="344.3" class="sb"/>
<line x1="399.3" y1="344.3" x2="414.3" y2="344.3" class="sb" transform="rotate(-130 399.3 344.3)"/>
<line x1="399.3" y1="344.3" x2="414.3" y2="344.3" class="sb" transform="rotate(-115 399.3 344.3)"/>
<circle cx="399.3" cy="344.3" r="15" class="o"/>
</g>
<circle id="F1-h1" cx="445.7" cy="328" r="2.5" class="n BFc"/>
<circle id="F1-h2" cx="448.7" cy="348" r="2.5" class="n BFc"/>
<circle id="F1-h3" cx="442.7" cy="368.7" r="2.5" class="n BFc"/>
<circle id="F1-h4" cx="430.7" cy="386.7" r="2.5" class="n BFc"/>
<circle id="F1-h5" cx="414.7" cy="400" r="2.5" class="n BFc"/>
<circle id="F1-h6" cx="386" cy="369" r="2.5" class="n BFc"/>
<g id="F1-pieI">
<circle cx="353.3" cy="358.3" r="5.7" class="GHc"/>
<circle cx="353.3" cy="358.3" r="2.85" class="sBFc" stroke-width="5.7" stroke-dasharray="8.95 17.91" transform="rotate(180 353.3 358.3)"/>
<line x1="347.6" y1="358.3" x2="359" y2="358.3" class="sb"/>
<circle cx="353.3" cy="358.3" r="5.7" class="o"/>
</g>
<circle id="F1-i1" cx="386" cy="424" r="2.5" class="n GHc"/>
</g>
</g>

<g id="labels">
<text x="155" y="15" class="cl">F5</text>
<text x="395" y="35" class="cl">F3</text>
<text x="565" y="30" class="cl">S3</text>
<text x="690" y="178" class="cl">S5</text>
<text x="533" y="212" class="cl">S2</text>
<text x="535.5" y="343" class="cl">S4</text>
<text x="636" y="387" class="cl">S1</text>
<text x="195" y="251" class="cl">F1</text>
<text x="25" y="435" class="cl">F4</text>
<text x="432" y="454" class="cl">F2</text>
<text x="155" y="44" class="t">R254K</text>
<text x="362.7" y="63.5" class="t">I1940T</text>
<text x="447.7" y="52" class="t">G317S</text>
<text x="292" y="229.5" class="t">P1874L</text>
<text x="266.7" y="250" class="t">P1874L</text>
<text x="325" y="251" class="t">A1934V</text>
<text x="377.3" y="242.5" class="t">A1934V</text>
<text x="336.7" y="262" class="t">I1868T</text>
<text x="301.7" y="270" class="t">E1597Q</text>
<text x="248.3" y="286" class="t">I1940T</text>
<text x="341.7" y="287" class="t">A1934V</text>
<text x="252.7" y="303.5" class="t">N1345I</text>
<text x="346.7" y="302" class="t">E1597G</text>
<text x="238.3" y="322" class="t">N1570Y</text>
<text x="330" y="328.5" class="t">V1853I</text>
<text x="369.3" y="328.5" class="t">P1874S</text>
<text x="315" y="348.5" class="t">K1603T</text>
<text x="265" y="353" class="t">T791M</text>
<text x="238.3" y="404" class="t">A1746S</text>
<text x="503.3" y="390" class="t">S2076T</text>
<text x="505.7" y="442.5" class="t">S2076T</text>
<text x="657.7" y="404" class="t">I492N</text>
<text x="25" y="457" class="t">F1920S</text>
</g>
</svg>
